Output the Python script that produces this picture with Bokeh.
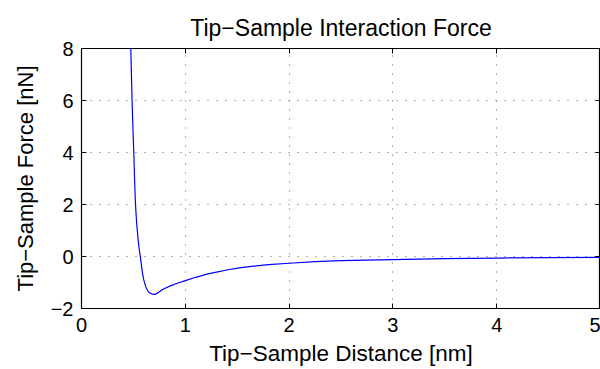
from bokeh.plotting import figure
from bokeh.models import LinearAxis, FixedTicker
from bokeh.embed import file_html
from bokeh.resources import INLINE

# Tip-sample distance [nm] and force [nN]
distance = [0.475, 0.481, 0.487, 0.495, 0.504, 0.511, 0.520, 0.531, 0.546, 0.557,
            0.567, 0.578, 0.588, 0.600, 0.620, 0.640, 0.660, 0.685, 0.707, 0.735,
            0.766, 0.800, 0.862, 0.930, 1.000, 1.100, 1.218, 1.300, 1.412, 1.520,
            1.638, 1.800, 2.000, 2.250, 2.500, 2.750, 3.000, 3.500, 4.000, 4.500, 5.000]
force = [8.0, 7.0, 6.0, 5.0, 4.0, 3.0, 2.0, 1.3, 0.62, 0.25,
         0.0, -0.35, -0.65, -0.90, -1.18, -1.33, -1.41, -1.45, -1.46, -1.40,
         -1.31, -1.23, -1.12, -1.02, -0.93, -0.80, -0.67, -0.60, -0.51, -0.44,
         -0.38, -0.31, -0.26, -0.20, -0.16, -0.14, -0.12, -0.08, -0.06, -0.04, -0.03]

x_ticks = [0, 1, 2, 3, 4, 5]
y_ticks = [-2, 0, 2, 4, 6, 8]
y_tick_labels = {-2: "\u22122", 0: "0", 2: "2", 4: "4", 6: "6", 8: "8"}

title_text = "Tip\u2212Sample Interaction Force"
x_label = "Tip\u2212Sample Distance [nm]"
y_label = "Tip\u2212Sample Force [nN]"

FONT = "Liberation Sans"

p = figure(width=600, height=369, x_range=(0, 5), y_range=(-2, 8),
           output_backend="svg", toolbar_location=None,
           min_border_left=81, min_border_right=0, min_border_top=48, min_border_bottom=61,
           x_axis_location=None, y_axis_location=None)
p.background_fill_color = "white"
p.border_fill_color = "white"
p.outline_line_color = "black"
p.outline_line_width = 1.2

p.title.text = title_text
p.title.align = "center"
p.title.text_font = FONT
p.title.text_font_size = "23px"
p.title.text_font_style = "normal"
p.title.text_color = "black"
p.title.standoff = 15

p.line(distance, force, line_color="#0000ff", line_width=1.2)

def style_axis(ax, show_labels):
    ax.major_tick_in = 5
    ax.major_tick_out = 0
    ax.minor_tick_in = 0
    ax.minor_tick_out = 0
    ax.axis_line_color = None
    ax.major_tick_line_color = "black"
    ax.major_tick_line_width = 1
    ax.major_label_text_font = FONT
    ax.major_label_text_color = "black"
    ax.major_label_text_font_size = "20px"
    if not show_labels:
        ax.major_label_overrides = {t: "" for t in ax.ticker.ticks}
        ax.major_label_standoff = 0

xb = LinearAxis(ticker=FixedTicker(ticks=x_ticks))
style_axis(xb, True)
xb.major_label_standoff = 9
xb.axis_label = x_label
xb.axis_label_text_font = FONT
xb.axis_label_text_font_size = "22.5px"
xb.axis_label_text_font_style = "normal"
xb.axis_label_text_color = "black"
xb.axis_label_standoff = 6
p.add_layout(xb, "below")

yl = LinearAxis(ticker=FixedTicker(ticks=y_ticks))
style_axis(yl, True)
yl.major_label_overrides = y_tick_labels
yl.major_label_standoff = 8
yl.axis_label = y_label
yl.axis_label_text_font = FONT
yl.axis_label_text_font_size = "22px"
yl.axis_label_text_font_style = "normal"
yl.axis_label_text_color = "black"
yl.axis_label_standoff = 10
p.add_layout(yl, "left")

xt = LinearAxis(ticker=FixedTicker(ticks=x_ticks))
style_axis(xt, False)
p.add_layout(xt, "above")

yr = LinearAxis(ticker=FixedTicker(ticks=y_ticks))
style_axis(yr, False)
yr.major_label_text_font_size = "1px"
p.add_layout(yr, "right")

p.xgrid.ticker = FixedTicker(ticks=x_ticks)
p.ygrid.ticker = FixedTicker(ticks=y_ticks)
for g in (p.xgrid, p.ygrid):
    g.grid_line_color = "black"
    g.grid_line_alpha = 0.6
    g.grid_line_dash = "1 8"
    g.grid_line_width = 1

open("out.html", "w").write(file_html(p, INLINE))
